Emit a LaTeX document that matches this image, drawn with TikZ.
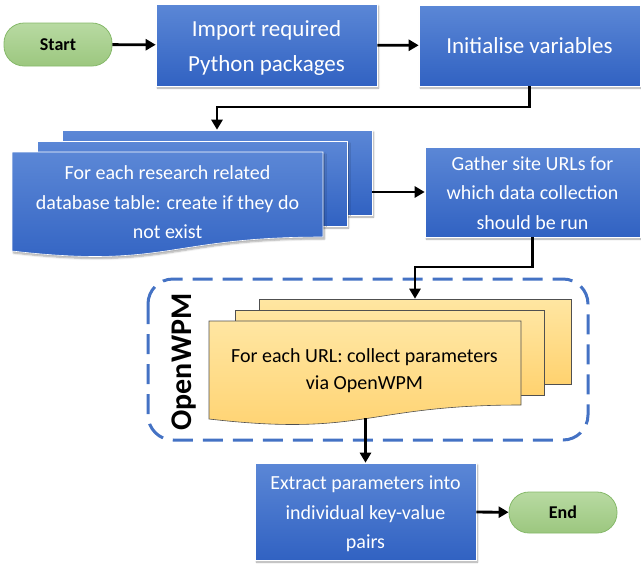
\documentclass[tikz,border=0pt]{standalone}
\usepackage{fontspec}
\setmainfont{Carlito}
\usetikzlibrary{arrows.meta,shadows.blur}
\definecolor{blueTop}{HTML}{5B87D6}
\definecolor{blueBot}{HTML}{3162C2}
\definecolor{greenTop}{HTML}{B8DAA2}
\definecolor{greenBot}{HTML}{9CC77F}
\definecolor{greenLine}{HTML}{86B96A}
\definecolor{orTop}{HTML}{FFE6A2}
\definecolor{orBot}{HTML}{FFD26F}
\definecolor{orLine}{HTML}{505050}
\definecolor{dashBlue}{HTML}{4472C4}
\begin{document}
\begin{tikzpicture}[x=1pt,y=-1pt,
  shade/.style={blur shadow={shadow xshift=1.5pt,shadow yshift=-2pt,shadow blur steps=5,shadow opacity=35}},
  bluefill/.style={draw=white,line width=0.6pt,top color=blueTop,bottom color=blueBot,shade},
  procbox/.style={bluefill,rectangle,text=white,align=center,inner sep=0pt},
  orfill/.style={draw=orLine,line width=0.6pt,top color=orTop,bottom color=orBot},
  termbox/.style={draw=greenLine,line width=0.8pt,top color=greenTop,bottom color=greenBot,
    rectangle,rounded corners=20pt,inner sep=0pt,font=\bfseries\fontsize{18}{22}\selectfont,text=black},
  bigtxt/.style={font=\fontsize{23}{35}\selectfont},
  smalltxt/.style={font=\fontsize{20}{29.5}\selectfont},
  conn/.style={draw=black,line width=2.8pt,-{Triangle[length=10pt,width=11pt]}},
  grp/.style={draw=dashBlue,line width=3pt,dash pattern=on 20pt off 10pt,rounded corners=25pt}
]
\useasboundingbox (0,0) rectangle (641,566);

% top row
\node[termbox,minimum width=108pt,minimum height=43pt] (start) at (58,44.5) {Start};
\node[procbox,minimum width=221pt,minimum height=82pt] (import) at (266.5,45) {};
\node[text=white,align=center,bigtxt] (importtxt) at (266.5,47.5) {Import required\\Python packages};
\node[procbox,bigtxt,minimum width=221pt,minimum height=81pt] (init) at (529.5,45.5) {Initialise variables};

% database multi-document
\node[bluefill,rectangle,minimum width=310pt,minimum height=85pt] (dbback) at (217,172.5) {};
\node[bluefill,rectangle,minimum width=310pt,minimum height=85pt] (dbmid) at (192,183.5) {};
\path[bluefill] (12,152) -- (323,152) -- (323,237) .. controls (167.5,237) and (167.5,269) .. (12,251) -- cycle;
\node[text=white,align=center,smalltxt] (db) at (167.5,202.5) {For each research related\\database table: create if they do\\not exist};

\node[procbox,minimum width=215pt,minimum height=90pt] (gather) at (532.5,192) {};
\node[text=white,align=center,smalltxt] (gathertxt) at (532.5,193) {Gather site URLs for\\which data collection\\should be run};

% OpenWPM group
\path[grp] (148,279) rectangle (588,440);
\node[rotate=90,font=\bfseries\fontsize{30}{36}\selectfont] (owpm) at (184,362) {OpenWPM};
\node[orfill,rectangle,minimum width=312pt,minimum height=85pt] (urlback) at (415,341.5) {};
\node[orfill,rectangle,minimum width=309pt,minimum height=85pt] (urlmid) at (389.5,352.5) {};
\path[orfill] (209,321) -- (521,321) -- (521,405) .. controls (365,405) and (365,437) .. (209,419) -- cycle;
\node[align=center,font=\fontsize{20}{27}\selectfont] (url) at (364.5,370.5) {For each URL: collect parameters\\via OpenWPM};
\coordinate (urlbot) at (365.5,418);

% bottom row
\node[procbox,minimum width=221pt,minimum height=97pt] (extract) at (365.5,511.5) {};
\node[text=white,align=center,smalltxt] (extracttxt) at (365.5,514) {Extract parameters into\\individual key-value\\pairs};
\node[termbox,minimum width=108pt,minimum height=41pt] (end) at (563,512.5) {End};

% connectors
\coordinate (t1) at (0,107);
\coordinate (t2) at (0,267);
\draw[conn] (start) -- (import);
\draw[conn] (import) -- (init);
\draw[conn] (init.south) -- (init.south |- t1) -| (dbback.north);
\draw[conn] (dbback.east |- gather.west) -- (gather.west);
\draw[conn] (gather.south) -- (gather.south |- t2) -| (urlback.north);
\draw[conn] (urlbot) -- (extract.north);
\draw[conn] (extract) -- (end);
\end{tikzpicture}
\end{document}
